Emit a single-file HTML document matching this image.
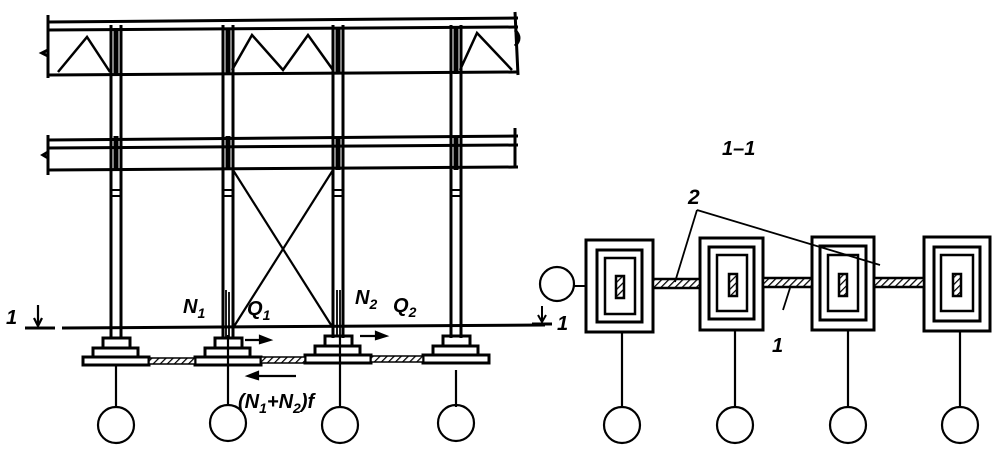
<!DOCTYPE html>
<html><head><meta charset="utf-8"><style>
html,body{margin:0;padding:0;background:#fff;}
svg{display:block;}
text{font-family:"Liberation Sans",sans-serif;font-style:italic;fill:#000;}
</style></head><body>
<svg width="1005" height="455" viewBox="0 0 1005 455" xmlns="http://www.w3.org/2000/svg">
<defs>
<pattern id="h" width="5" height="5" patternUnits="userSpaceOnUse" patternTransform="rotate(45)">
<rect width="5" height="5" fill="#fff"/><line x1="0" y1="0" x2="0" y2="5" stroke="#000" stroke-width="2.5"/></pattern>
</defs>
<g stroke="#000" fill="none" stroke-width="3">
<!-- top truss -->
<line x1="48" y1="22" x2="518" y2="18"/>
<line x1="48" y1="30" x2="518" y2="27"/>
<line x1="48" y1="75" x2="518" y2="72"/>
<line x1="48" y1="15" x2="48" y2="78"/>
<path d="M515 12 L518 75 M515 30 q8 8 0 16"/>
<path d="M48 50 l-6 3 l6 3"/>
<polyline stroke-width="2.5" points="58,72 87,37 110,72"/>
<polyline stroke-width="2.5" points="232,70 252,35 283,70 308,35 333,70"/>
<polyline stroke-width="2.5" points="460,70 477,33 512,70"/>
<!-- second beam -->
<line x1="48" y1="140" x2="518" y2="136"/>
<line x1="48" y1="148" x2="518" y2="145"/>
<line x1="48" y1="170" x2="518" y2="167"/>
<line x1="48" y1="135" x2="48" y2="175"/>
<line x1="515" y1="128" x2="515" y2="168"/>
<path d="M48 152 l-5 3 l5 3"/>
<!-- columns -->
<g stroke-width="3">
<line x1="111" y1="25" x2="111" y2="338"/><line x1="121" y1="25" x2="121" y2="338"/>
<line x1="223" y1="25" x2="223" y2="338"/><line x1="233" y1="25" x2="233" y2="338"/>
<line x1="333" y1="25" x2="333" y2="338"/><line x1="343" y1="25" x2="343" y2="338"/>
<line x1="451" y1="25" x2="451" y2="338"/><line x1="461" y1="25" x2="461" y2="338"/>
</g>
<g stroke-width="5">
<line x1="116" y1="28" x2="116" y2="76"/><line x1="228" y1="28" x2="228" y2="74"/>
<line x1="338" y1="28" x2="338" y2="74"/><line x1="456" y1="28" x2="456" y2="74"/>
<line x1="116" y1="136" x2="116" y2="170"/><line x1="228" y1="136" x2="228" y2="170"/>
<line x1="338" y1="136" x2="338" y2="170"/><line x1="456" y1="136" x2="456" y2="170"/>
</g>
<g stroke-width="2">
<line x1="111" y1="190" x2="121" y2="190"/><line x1="111" y1="196" x2="121" y2="196"/>
<line x1="223" y1="190" x2="233" y2="190"/><line x1="223" y1="196" x2="233" y2="196"/>
<line x1="333" y1="190" x2="343" y2="190"/><line x1="333" y1="196" x2="343" y2="196"/>
<line x1="451" y1="190" x2="461" y2="190"/><line x1="451" y1="196" x2="461" y2="196"/>
</g>
<!-- bracing -->
<line x1="233" y1="170" x2="333" y2="328" stroke-width="2.2"/>
<line x1="333" y1="170" x2="233" y2="328" stroke-width="2.2"/>
<!-- section line -->
<line x1="25" y1="328" x2="55" y2="328"/>
<line x1="62" y1="328" x2="545" y2="325"/>
<line x1="38" y1="305" x2="38" y2="325" stroke-width="2.2"/>
<path d="M34 318 L38 326 L42 318" stroke-width="2.2"/>
<!-- bases -->
<g stroke-width="3">
<rect x="103" y="338" width="27" height="10"/><rect x="93" y="348" width="45" height="9"/><rect x="83" y="357" width="66" height="8"/>
<rect x="215" y="338" width="27" height="10"/><rect x="205" y="348" width="45" height="9"/><rect x="195" y="357" width="66" height="8"/>
<rect x="325" y="336" width="27" height="10"/><rect x="315" y="346" width="45" height="9"/><rect x="305" y="355" width="66" height="8"/>
<rect x="443" y="336" width="27" height="10"/><rect x="433" y="346" width="45" height="9"/><rect x="423" y="355" width="66" height="8"/>
</g>
<rect x="149" y="358" width="46" height="6" stroke-width="1.5" fill="url(#h)"/>
<rect x="261" y="357" width="44" height="6" stroke-width="1.5" fill="url(#h)"/>
<rect x="371" y="356" width="52" height="6" stroke-width="1.5" fill="url(#h)"/>
<!-- N lines -->
<g stroke-width="1.8">
<line x1="226" y1="290" x2="226" y2="338"/><line x1="229" y1="292" x2="229" y2="338"/>
<line x1="337" y1="290" x2="337" y2="336"/><line x1="340" y1="290" x2="340" y2="336"/>
</g>
<!-- arrows -->
<g stroke-width="2.2">
<line x1="245" y1="340" x2="268" y2="340"/><path d="M260 336 L270 340 L260 343 Z" fill="#000"/>
<line x1="360" y1="336" x2="384" y2="336"/><path d="M376 332 L386 336 L376 339 Z" fill="#000"/>
<line x1="250" y1="376" x2="296" y2="376"/><path d="M258 372 L248 376 L258 379 Z" fill="#000"/>
</g>
<!-- hangers & circles -->
<g stroke-width="2.2">
<line x1="116" y1="365" x2="116" y2="407"/><circle cx="116" cy="425" r="18"/>
<line x1="228" y1="335" x2="228" y2="405"/><circle cx="228" cy="423" r="18"/>
<line x1="340" y1="335" x2="340" y2="407"/><circle cx="340" cy="425" r="18"/>
<line x1="456" y1="370" x2="456" y2="407"/><circle cx="456" cy="423" r="18"/>
</g>
<!-- right section -->
<g stroke-width="3">
<rect x="586" y="240" width="67" height="92"/><rect x="597" y="250" width="45" height="72"/><rect x="605" y="258" width="30" height="56" stroke-width="2.5"/>
<rect x="700" y="238" width="63" height="92"/><rect x="709" y="247" width="45" height="72"/><rect x="717" y="255" width="30" height="56" stroke-width="2.5"/>
<rect x="812" y="237" width="62" height="93"/><rect x="820" y="246" width="46" height="74"/><rect x="828" y="255" width="30" height="56" stroke-width="2.5"/>
<rect x="924" y="237" width="66" height="94"/><rect x="934" y="247" width="46" height="74"/><rect x="941" y="255" width="32" height="56" stroke-width="2.5"/>
</g>
<g stroke-width="2.5" fill="url(#h)">
<rect x="616" y="276" width="8" height="22"/><rect x="729" y="274" width="8" height="22"/>
<rect x="839" y="274" width="8" height="22"/><rect x="953" y="274" width="8" height="22"/>
<rect x="653" y="279" width="47" height="9"/><rect x="763" y="278" width="49" height="9"/><rect x="874" y="278" width="50" height="9"/>
</g>
<circle cx="557" cy="284" r="17" stroke-width="2.2"/>
<line x1="574" y1="286" x2="586" y2="286" stroke-width="2"/>
<line x1="542" y1="306" x2="542" y2="322" stroke-width="2"/>
<path d="M538 315 L542 322 L546 315" stroke-width="2"/>
<line x1="532" y1="324" x2="552" y2="324"/>
<g stroke-width="1.8">
<line x1="697" y1="210" x2="675" y2="282"/>
<line x1="697" y1="210" x2="880" y2="265"/>
<line x1="790" y1="288" x2="783" y2="310"/>
</g>
<g stroke-width="2.2">
<line x1="622" y1="332" x2="622" y2="407"/><circle cx="622" cy="425" r="18"/>
<line x1="735" y1="330" x2="735" y2="407"/><circle cx="735" cy="425" r="18"/>
<line x1="848" y1="330" x2="848" y2="407"/><circle cx="848" cy="425" r="18"/>
<line x1="960" y1="331" x2="960" y2="407"/><circle cx="960" cy="425" r="18"/>
</g>
</g>
<g font-weight="bold">
<text x="6" y="324" font-size="20">1</text>
<text x="557" y="330" font-size="20">1</text>
<text x="183" y="313" font-size="20">N<tspan font-size="14" dy="5">1</tspan></text>
<text x="247" y="315" font-size="20">Q<tspan font-size="14" dy="5">1</tspan></text>
<text x="355" y="304" font-size="20">N<tspan font-size="14" dy="5">2</tspan></text>
<text x="393" y="312" font-size="20">Q<tspan font-size="14" dy="5">2</tspan></text>
<text x="238" y="408" font-size="20">(N<tspan font-size="14" dy="5">1</tspan><tspan dy="-5">+N</tspan><tspan font-size="14" dy="5">2</tspan><tspan dy="-5">)f</tspan></text>
<text x="722" y="155" font-size="20">1–1</text>
<text x="688" y="204" font-size="21">2</text>
<text x="772" y="352" font-size="20">1</text>
</g>
</svg>
</body></html>
